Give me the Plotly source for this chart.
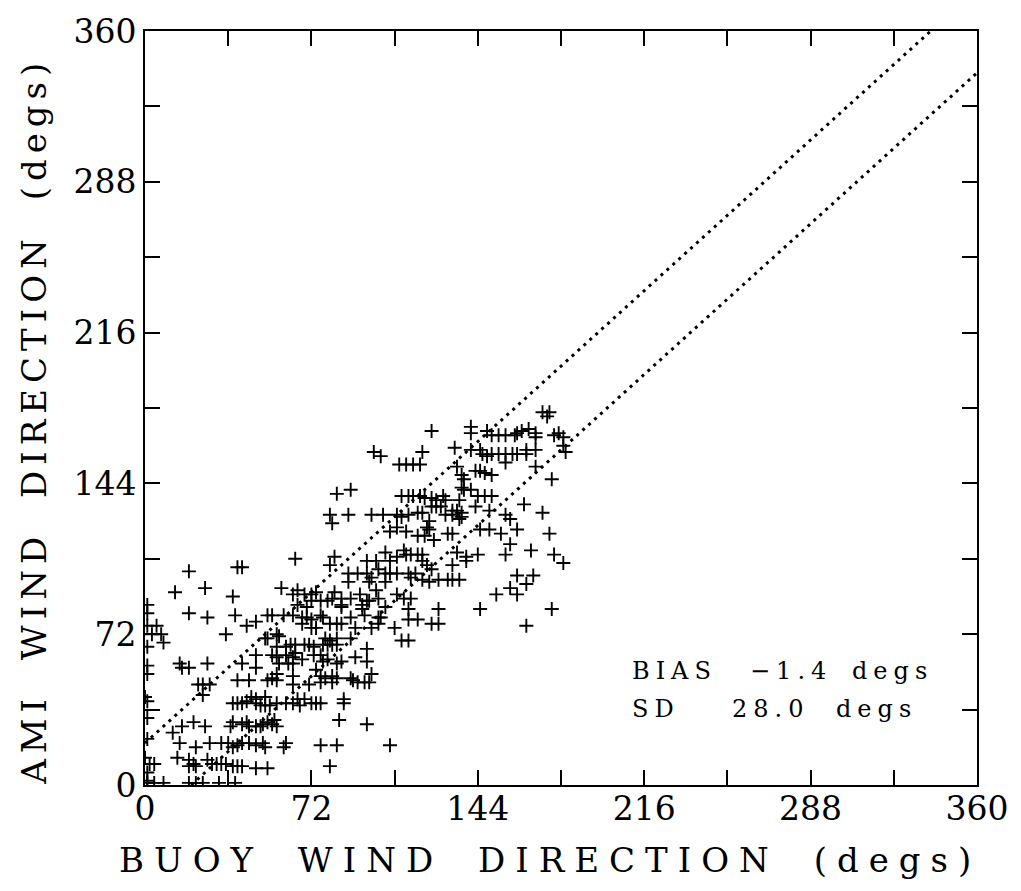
import plotly.graph_objects as go

# Buoy (x) vs AMI (y) wind direction, degrees
buoy_dir = [
    8, 15, 16, 19, 27, 23, 25, 28, 25, 16, 21, 26, 12, 15, 22, 14, 19, 21, 19, 22, 27, 29, 31, 33, 35, 38, 40, 42, 48, 53,
    28, 33, 36, 38, 40, 42, 45, 48, 51, 52, 61, 60,
    37, 38, 42, 44, 45, 48, 50, 51, 53, 55, 56, 57,
    38, 40, 42, 44, 46, 48, 48, 50, 52, 52, 54, 57, 61, 64,
    40, 45, 53, 55, 57, 57, 64,
    42, 48, 48,
    57, 61, 55, 57, 61, 64, 58, 62, 64,
    1, 1, 1, 0, 1, 1, 1, 0, 2, 4, 1, 1,
    1, 4, 8, 19, 22, 25, 32, 39,
    63, 65, 69, 71, 73, 77, 79, 81, 83, 96, 111,
    65, 68, 73, 76, 77, 79, 83, 85, 91, 96,
    74, 76, 78, 81, 83, 81, 89, 90, 92, 95, 97, 98, 71, 76, 64,
    66, 69, 72, 74, 76, 67, 86, 86, 84, 96, 76, 83, 106, 80,
    65, 19, 40, 42, 13, 26, 38, 59, 64, 66, 19, 27, 39, 53, 55, 60, 64, 44, 48, 35, 52, 53, 57, 58,
    1, 1, 1, 5, 3, 7,
    83, 111, 114, 116, 119, 121, 124, 126, 129, 130, 136,
    124, 126, 128, 130, 120, 118,
    80, 88, 98, 103, 109, 111, 114, 81,
    123, 122, 123, 109, 106, 113, 118, 121, 125, 131,
    82, 80, 96, 100, 104, 106, 109, 112, 113, 115, 118, 120, 120, 122, 124,
    88, 92, 96, 101, 98, 104, 106, 109, 114, 115, 117, 120, 123, 127, 131, 133, 136,
    88, 97, 104,
    100, 93, 96, 97, 101, 89, 85, 82, 81, 85, 85,
    109, 112, 115, 114, 127, 104, 94, 94, 95,
    69, 72, 74, 76, 79, 72, 70, 66,
    68, 70, 72, 76, 77, 89, 85, 68, 72, 74, 80, 83,
    101, 102, 101, 98, 91, 108, 114, 118, 124, 127,
    78, 80, 83, 89, 114,
    172, 175, 174, 141, 141, 148, 150, 153, 156, 160, 161, 163, 166, 169, 169, 177, 179, 181,
    134, 141, 145, 146, 148, 150, 153, 156, 159, 161, 165, 165, 169, 181, 182, 156, 169, 176,
    135, 137, 138, 143, 145, 147, 150,
    137, 138, 141, 144, 147, 150,
    143, 149, 164, 172, 133, 133, 135, 137, 137, 136, 156, 158,
    133, 145, 149, 154, 161, 175, 158, 156, 144, 167, 177, 181, 135, 139, 139, 133,
    161, 168, 165, 158, 152, 161, 145, 176, 165,
    124, 99, 102, 120, 110, 113, 116, 119, 89,
]
ami_dir = [
    68, 58, 56, 56, 58, 48, 48, 48, 43, 28, 30, 28, 25, 20, 18, 13, 12, 10, 9, 9, 12, 10, 10, 10, 10, 9, 9, 9, 8, 8,
    20, 20, 20, 18, 19, 20, 20, 19, 20, 18, 20, 18,
    28, 30, 29, 30, 28, 28, 28, 29, 30, 29, 31, 28,
    39, 39, 39, 40, 42, 41, 39, 38, 42, 38, 38, 39, 39, 39,
    50, 50, 50, 51, 53, 50, 52,
    58, 62, 56,
    66, 66, 62, 61, 62, 61, 58, 58, 58,
    66, 57, 53, 42, 40, 32, 22, 13, 10, 10, 6, 2,
    1, 1, 1, 1, 1, 1, 1, 1,
    67, 67, 67, 67, 66, 67, 67, 67, 67, 65, 69,
    63, 60, 62, 62, 59, 60, 58, 59, 61, 59,
    55, 52, 51, 52, 51, 49, 51, 50, 49, 49, 49, 53, 48, 49, 48,
    41, 41, 39, 39, 39, 38, 41, 39, 31, 29, 19, 19, 19, 9,
    108, 102, 104, 104, 92, 94, 90, 94, 91, 93, 82, 80, 81, 81, 81, 81, 81, 76, 78, 72, 70, 70, 72, 71,
    86, 82, 76, 76, 72, 72,
    139, 138, 138, 138, 138, 137, 137, 136, 138, 136, 136,
    133, 133, 133, 129, 130, 130,
    129, 129, 129, 129, 129, 128, 129, 125,
    126, 123, 122, 123, 121, 121, 119, 119, 117, 120,
    109, 105, 107, 107, 111, 107, 109, 112, 110, 110, 110, 110, 107, 105, 103,
    101, 101, 101, 103, 99, 101, 101, 101, 101, 99, 101, 98, 97, 98, 98, 98, 98,
    97, 97, 97,
    93, 91, 88, 88, 89, 89, 89, 92, 89, 86, 85,
    91, 89, 89, 84, 84, 85, 86, 84, 81,
    91, 91, 92, 88, 88, 88, 85, 86,
    80, 80, 79, 81, 80, 80, 77, 77, 75, 75, 77, 77,
    80, 80, 77, 75, 75, 75, 79, 79, 77, 77,
    70, 69, 70, 70, 69,
    178, 178, 176, 171, 168, 169, 167, 167, 167, 167, 168, 169, 170, 168, 166, 167, 168, 166,
    161, 160, 160, 158, 157, 158, 158, 158, 158, 158, 158, 160, 160, 162, 159, 154, 152, 146,
    152, 148, 146, 150, 150, 149, 148,
    142, 141, 141, 138, 138, 138,
    133, 131, 134, 130, 131, 129, 131, 130, 128, 127, 129, 127,
    120, 122, 122, 120, 122, 120, 115, 110, 110, 112, 110, 106, 111, 109, 107, 105,
    100, 100, 96, 94, 91, 91, 84, 84, 76,
    169, 159, 157, 159, 153, 153, 153, 153, 141,
]

# Dotted reference lines (AMI = buoy +/- 20 degs)
upper_x = [0, 340]
upper_y = [20, 360]
lower_x = [20, 360]
lower_y = [0, 340]

tick_vals = [0, 36, 72, 108, 144, 180, 216, 252, 288, 324, 360]
tick_text = ["0", "", "72", "", "144", "", "216", "", "288", "", "360"]

bias_text = ["BIAS", "\u22121.4", "degs"]
sd_text = ["SD", "28.0", "degs"]
bias_x = [210, 261, 305]
sd_x = [210, 253, 298]
bias_y = 54.5
sd_y = 36.5

FONT = "DejaVu Serif"

fig = go.Figure()
for xs, ys in [(upper_x, upper_y), (lower_x, lower_y)]:
    fig.add_trace(go.Scatter(
        x=xs, y=ys, mode="lines",
        line=dict(color="black", width=3, dash="3px,5px"),
        hoverinfo="skip", showlegend=False,
    ))
fig.add_trace(go.Scatter(
    x=buoy_dir, y=ami_dir, mode="markers",
    marker=dict(symbol="cross-thin", size=10, color="black",
                line=dict(color="black", width=1.9)),
    showlegend=False,
))

axis_common = dict(
    range=[0, 360], tickvals=tick_vals, ticktext=tick_text,
    showline=True, linewidth=2, linecolor="black", mirror="ticks",
    ticks="inside", ticklen=15, tickwidth=2, tickcolor="black",
    showgrid=False, zeroline=False, ticklabeloverflow="allow",
    tickfont=dict(family=FONT, size=33, color="black"),
)
fig.update_xaxes(**axis_common, ticklabelstandoff=-7)
fig.update_yaxes(**axis_common, ticklabelstandoff=0)

annotations = []
for t, x in zip(bias_text, bias_x):
    annotations.append(dict(x=x, y=bias_y, xref="x", yref="y", text=f'<span style="letter-spacing:6px">{t}</span>',
                            showarrow=False, xanchor="left", yanchor="middle",
                            font=dict(family=FONT, size=24, color="black")))
for t, x in zip(sd_text, sd_x):
    annotations.append(dict(x=x, y=sd_y, xref="x", yref="y", text=f'<span style="letter-spacing:6px">{t}</span>',
                            showarrow=False, xanchor="left", yanchor="middle",
                            font=dict(family=FONT, size=24, color="black")))
annotations.append(dict(
    x=0.487, y=-0.1, xref="paper", yref="paper",
    text='<span style="letter-spacing:10px;word-spacing:14px">BUOY WIND DIRECTION (degs)</span>',
    showarrow=False, xanchor="center", yanchor="middle",
    font=dict(family=FONT, size=34, color="black")))
annotations.append(dict(
    x=-0.1334, y=0.483, xref="paper", yref="paper", textangle=-90,
    text='<span style="letter-spacing:6px;word-spacing:16px">AMI WIND DIRECTION (degs)</span>',
    showarrow=False, xanchor="center", yanchor="middle",
    font=dict(family=FONT, size=34, color="black")))

fig.update_layout(
    width=1021, height=891,
    margin=dict(l=145, r=43, t=25, b=106),
    paper_bgcolor="white", plot_bgcolor="white",
    annotations=annotations,
    showlegend=False,
)
fig.write_html(
    "out.html",
    config={"displayModeBar": False},
    post_script="document.body.style.margin='0px';document.documentElement.style.overflow='hidden';",
)
